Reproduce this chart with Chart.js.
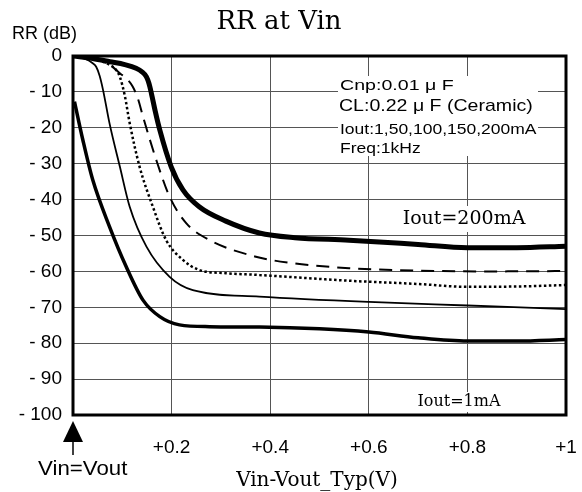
<!DOCTYPE html>
<html>
<head>
<meta charset="utf-8">
<script src="https://cdn.jsdelivr.net/npm/chart.js@4.4.0/dist/chart.umd.min.js"></script>
<style>
  html, body { margin: 0; padding: 0; background: #fff; }
  #wrap { width: 582px; height: 492px; }
</style>
</head>
<body>
<div id="wrap"><canvas id="rrChart" width="582" height="492"></canvas></div>
<script>
// curves (x = Vin-Vout in V, y = RR in dB)
var x200 = [0, 0.04, 0.075, 0.105, 0.128, 0.140, 0.149, 0.154, 0.159, 0.167, 0.176, 0.199, 0.223, 0.256, 0.31, 0.378, 0.45, 0.56, 0.7, 0.8, 0.9, 1.0];
var y200 = [0, -0.7, -1.6, -2.4, -3.4, -4.4, -5.8, -7.6, -10.4, -15.5, -20.6, -30.8, -37.3, -42, -46, -49.3, -50.6, -51.3, -52.5, -53.4, -53.4, -53.0];
var x150 = [0, 0.03, 0.06, 0.08, 0.095, 0.11, 0.121, 0.132, 0.142, 0.169, 0.196, 0.23, 0.277, 0.371, 0.45, 0.56, 0.7, 0.85, 1.0];
var y150 = [0, -0.5, -1.5, -3, -4.8, -6.5, -8.5, -12, -16.9, -29, -39.2, -46.6, -51.3, -55.9, -57.8, -59.1, -59.8, -60, -59.9];
var x100 = [0, 0.04, 0.075, 0.087, 0.095, 0.105, 0.115, 0.135, 0.162, 0.189, 0.223, 0.256, 0.31, 0.378, 0.56, 0.7, 0.8, 0.9, 1.0];
var y100 = [0, -0.8, -2.5, -3.8, -5.8, -11, -18.7, -30.8, -42, -51.3, -56.8, -59.6, -60.5, -61, -62.6, -63.5, -64.3, -64.2, -63.8];
var x50 = [0, 0.025, 0.04, 0.047, 0.054, 0.061, 0.074, 0.095, 0.115, 0.149, 0.196, 0.243, 0.378, 0.6, 0.8, 1.0];
var y50 = [0, -0.8, -2, -3, -5.5, -9.5, -18.7, -30.8, -42, -53.1, -61.5, -65.2, -67, -68.5, -69.5, -70.5];
var x1 = [0.003, 0.02, 0.04, 0.074, 0.108, 0.142, 0.176, 0.216, 0.277, 0.378, 0.5, 0.6, 0.7, 0.8, 0.9, 1.0];
var y1 = [-12.7, -23.4, -34.5, -47.5, -58.7, -68, -72.6, -74.9, -75.4, -75.5, -76, -76.9, -78.5, -79.4, -79.4, -79];

var xTickLabels = ['', '+0.2', '+0.4', '+0.6', '+0.8', '+1'];
var yTickLabels = ['- 100', '- 90', '- 80', '- 70', '- 60', '- 50', '- 40', '- 30', '- 20', '- 10', '0'];
var noteLines = ['Cnp:0.01 \u03bc F', 'CL:0.22 \u03bc F (Ceramic)', 'Iout:1,50,100,150,200mA', 'Freq:1kHz'];

function pts(xs, ys) {
  return xs.map(function (v, i) { return { x: v, y: ys[i] }; });
}

var sansFont = '"Liberation Sans", Arial, sans-serif';
var serifFont = '"DejaVu Serif", Georgia, serif';

// text stretched horizontally by sx, anchored at its left edge
function wideText(c, txt, x, y, font, sx) {
  c.save();
  c.font = font;
  c.textAlign = 'left';
  c.translate(x, y);
  c.scale(sx, 1);
  c.fillText(txt, 0, 0);
  c.restore();
}

var decor = {
  id: 'decor',
  beforeDatasetsDraw: function (chart) {
    var c = chart.ctx;
    c.save();
    // white boxes behind the notes
    c.fillStyle = '#fff';
    c.fillRect(338, 76, 200, 80);
    c.fillRect(398, 206, 132, 26);
    c.fillRect(414, 392, 90, 20);
    c.fillStyle = '#000';
    c.textBaseline = 'middle';
    wideText(c, noteLines[0], 340, 86, '14px ' + sansFont, 1.4);
    wideText(c, noteLines[1], 339, 106, '17px ' + sansFont, 1.15);
    wideText(c, noteLines[2], 340, 130, '14px ' + sansFont, 1.25);
    wideText(c, noteLines[3], 340, 149, '14px ' + sansFont, 1.25);
    c.textAlign = 'center';
    c.font = '19px ' + serifFont;
    c.fillText('Iout=200mA', 464, 219);
    c.font = '16px ' + serifFont;
    c.fillText('Iout=1mA', 459, 402);
    c.restore();
  },
  afterDraw: function (chart) {
    var c = chart.ctx, a = chart.chartArea;
    c.save();
    c.strokeStyle = '#000';
    c.lineWidth = 3;
    c.strokeRect(a.left, a.top, a.right - a.left, a.bottom - a.top);
    c.fillStyle = '#000';
    c.textBaseline = 'middle';
    c.textAlign = 'center';
    c.font = '26px ' + serifFont;
    c.fillText('RR at Vin', 279, 22);
    c.font = '20px ' + serifFont;
    c.fillText('Vin-Vout_Typ(V)', 317, 481);
    c.font = '18px ' + sansFont;
    c.textAlign = 'left';
    c.fillText('RR (dB)', 12, 34);
    wideText(c, 'Vin=Vout', 38, 469, '21px ' + sansFont, 1.06);
    // arrow at Vin=Vout
    var ax = a.left;
    c.beginPath();
    c.moveTo(ax, 421);
    c.lineTo(ax - 10, 442);
    c.lineTo(ax + 10, 442);
    c.closePath();
    c.fill();
    c.lineWidth = 1.5;
    c.beginPath();
    c.moveTo(ax, 442);
    c.lineTo(ax, 455);
    c.stroke();
    c.restore();
  }
};

var ctx = document.getElementById('rrChart').getContext('2d');
var rrChart = new Chart(ctx, {
  type: 'line',
  data: {
    datasets: [
      { label: '200mA', data: pts(x200, y200), borderColor: '#000', borderWidth: 5 },
      { label: '150mA', data: pts(x150, y150), borderColor: '#000', borderWidth: 2, borderDash: [13, 8] },
      { label: '100mA', data: pts(x100, y100), borderColor: '#000', borderWidth: 2.5, borderDash: [2.5, 2.5] },
      { label: '50mA', data: pts(x50, y50), borderColor: '#000', borderWidth: 1.8 },
      { label: '1mA', data: pts(x1, y1), borderColor: '#000', borderWidth: 3.5 }
    ]
  },
  options: {
    responsive: false,
    animation: false,
    layout: { padding: { left: 0, right: 16, top: 56, bottom: 0 } },
    elements: { point: { radius: 0 }, line: { cubicInterpolationMode: 'monotone', fill: false } },
    plugins: { legend: { display: false }, tooltip: { enabled: false } },
    scales: {
      x: {
        type: 'linear', min: 0, max: 1,
        afterFit: function (s) { s.height = 77; s.paddingLeft = 0; s.paddingRight = 0; },
        afterBuildTicks: function (s) { s.ticks = [0, 0.2, 0.4, 0.6, 0.8, 1].map(function (v) { return { value: v }; }); },
        grid: { color: '#555', lineWidth: 1, drawTicks: false },
        border: { display: false },
        ticks: {
          padding: 21, maxRotation: 0, autoSkip: false,
          color: '#000', font: { family: sansFont, size: 19 },
          callback: function (v, i) { return xTickLabels[i]; }
        }
      },
      y: {
        type: 'linear', min: -100, max: 0,
        afterFit: function (s) { s.width = 73; s.paddingTop = 0; s.paddingBottom = 0; },
        grid: { color: '#555', lineWidth: 1, drawTicks: false },
        border: { display: false },
        ticks: {
          stepSize: 10, padding: 11,
          color: '#000', font: { family: sansFont, size: 19 },
          callback: function (v, i) { return yTickLabels[i]; }
        }
      }
    }
  },
  plugins: [decor]
});
</script>
</body>
</html>
